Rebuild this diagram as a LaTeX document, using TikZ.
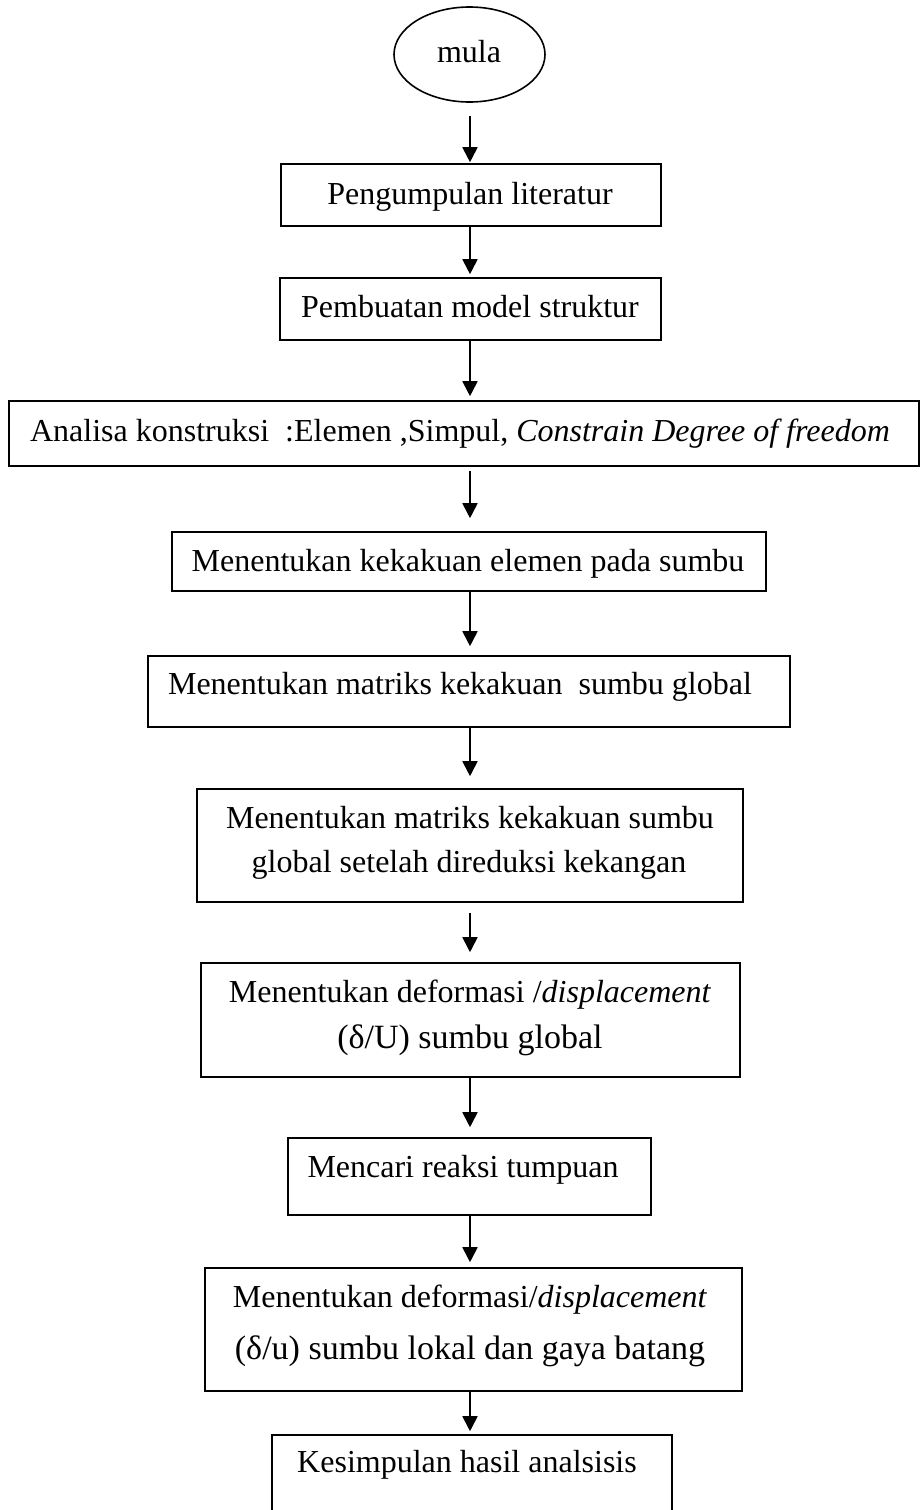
\documentclass[tikz,border=0pt]{standalone}
\usepackage{fontspec}
\setmainfont{Liberation Serif}
\usetikzlibrary{arrows.meta,shapes.geometric}
\begin{document}
\begin{tikzpicture}[x=1pt,y=-1pt,
  box/.style={draw, line width=1.6pt, inner sep=0pt},
  oval/.style={draw, ellipse, line width=1.6pt, inner sep=0pt},
  txt/.style={anchor=base, inner sep=0pt, font=\fontsize{32}{44}\selectfont},
  dtxt/.style={anchor=base, inner sep=0pt, font=\fontsize{34}{44}\selectfont},
  arr/.style={line width=1.8pt, -{Triangle[length=15pt,width=15pt]}}
]
\useasboundingbox (0,0) rectangle (920,1510);
\clip (0,0) rectangle (920,1510);
\coordinate (ax) at (470,0);

\node[oval, minimum width=151, minimum height=95] (s0) at (469.5,54.5) {};
\node[txt] (t0) at (469,62) {mula};

\node[box, minimum width=380, minimum height=62] (b1) at (471,195) {};
\node[txt] (t1) at (470,204) {Pengumpulan literatur};

\node[box, minimum width=381, minimum height=62] (b2) at (470.5,309) {};
\node[txt] (t2) at (470,317) {Pembuatan model struktur};

\node[box, minimum width=910, minimum height=65] (b3) at (464,433.5) {};
\node[txt] (t3) at (460,441) {Analisa konstruksi\ \ :Elemen ,Simpul, \textit{Constrain Degree of freedom}};

\node[box, minimum width=594, minimum height=59] (b4) at (469,561.5) {};
\node[txt] (t4) at (468,571) {Menentukan kekakuan elemen pada sumbu};

\node[box, minimum width=642, minimum height=71] (b5) at (469,691.5) {};
\node[txt] (t5) at (460,694) {Menentukan matriks kekakuan\ \ sumbu global};

\node[box, minimum width=546, minimum height=113] (b6) at (470,845.5) {};
\node[txt] (t6a) at (470,828) {Menentukan matriks kekakuan sumbu};
\node[txt] (t6b) at (469,872) {global setelah direduksi kekangan};

\node[box, minimum width=539, minimum height=114] (b7) at (470.5,1020) {};
\node[txt] (t7a) at (470,1002) {Menentukan deformasi /\textit{displacement}};
\node[dtxt] (t7b) at (470,1048) {(δ/U) sumbu global};

\node[box, minimum width=363, minimum height=77] (b8) at (469.5,1176.5) {};
\node[txt] (t8) at (463,1177) {Mencari reaksi tumpuan};

\node[box, minimum width=537, minimum height=123] (b9) at (473.5,1329.5) {};
\node[txt] (t9a) at (470,1307) {Menentukan deformasi/\textit{displacement}};
\node[dtxt] (t9b) at (470,1359) {(δ/u) sumbu lokal dan gaya batang};

\node[box, minimum width=400, minimum height=110] (b10) at (472,1490) {};
\node[txt] (t10) at (467,1472) {Kesimpulan hasil analsisis};

\draw[arr, shorten <=13pt, shorten >=1pt] (s0.south -| ax) -- (b1.north -| ax);
\draw[arr, shorten >=3pt] (b1.south -| ax) -- (b2.north -| ax);
\draw[arr, shorten >=4pt] (b2.south -| ax) -- (b3.north -| ax);
\draw[arr, shorten <=4pt, shorten >=13pt] (b3.south -| ax) -- (b4.north -| ax);
\draw[arr, shorten >=9pt] (b4.south -| ax) -- (b5.north -| ax);
\draw[arr, shorten >=12pt] (b5.south -| ax) -- (b6.north -| ax);
\draw[arr, shorten <=10pt, shorten >=10pt] (b6.south -| ax) -- (b7.north -| ax);
\draw[arr, shorten >=10pt] (b7.south -| ax) -- (b8.north -| ax);
\draw[arr, shorten >=5pt] (b8.south -| ax) -- (b9.north -| ax);
\draw[arr, shorten >=3pt] (b9.south -| ax) -- (b10.north -| ax);
\end{tikzpicture}
\end{document}
